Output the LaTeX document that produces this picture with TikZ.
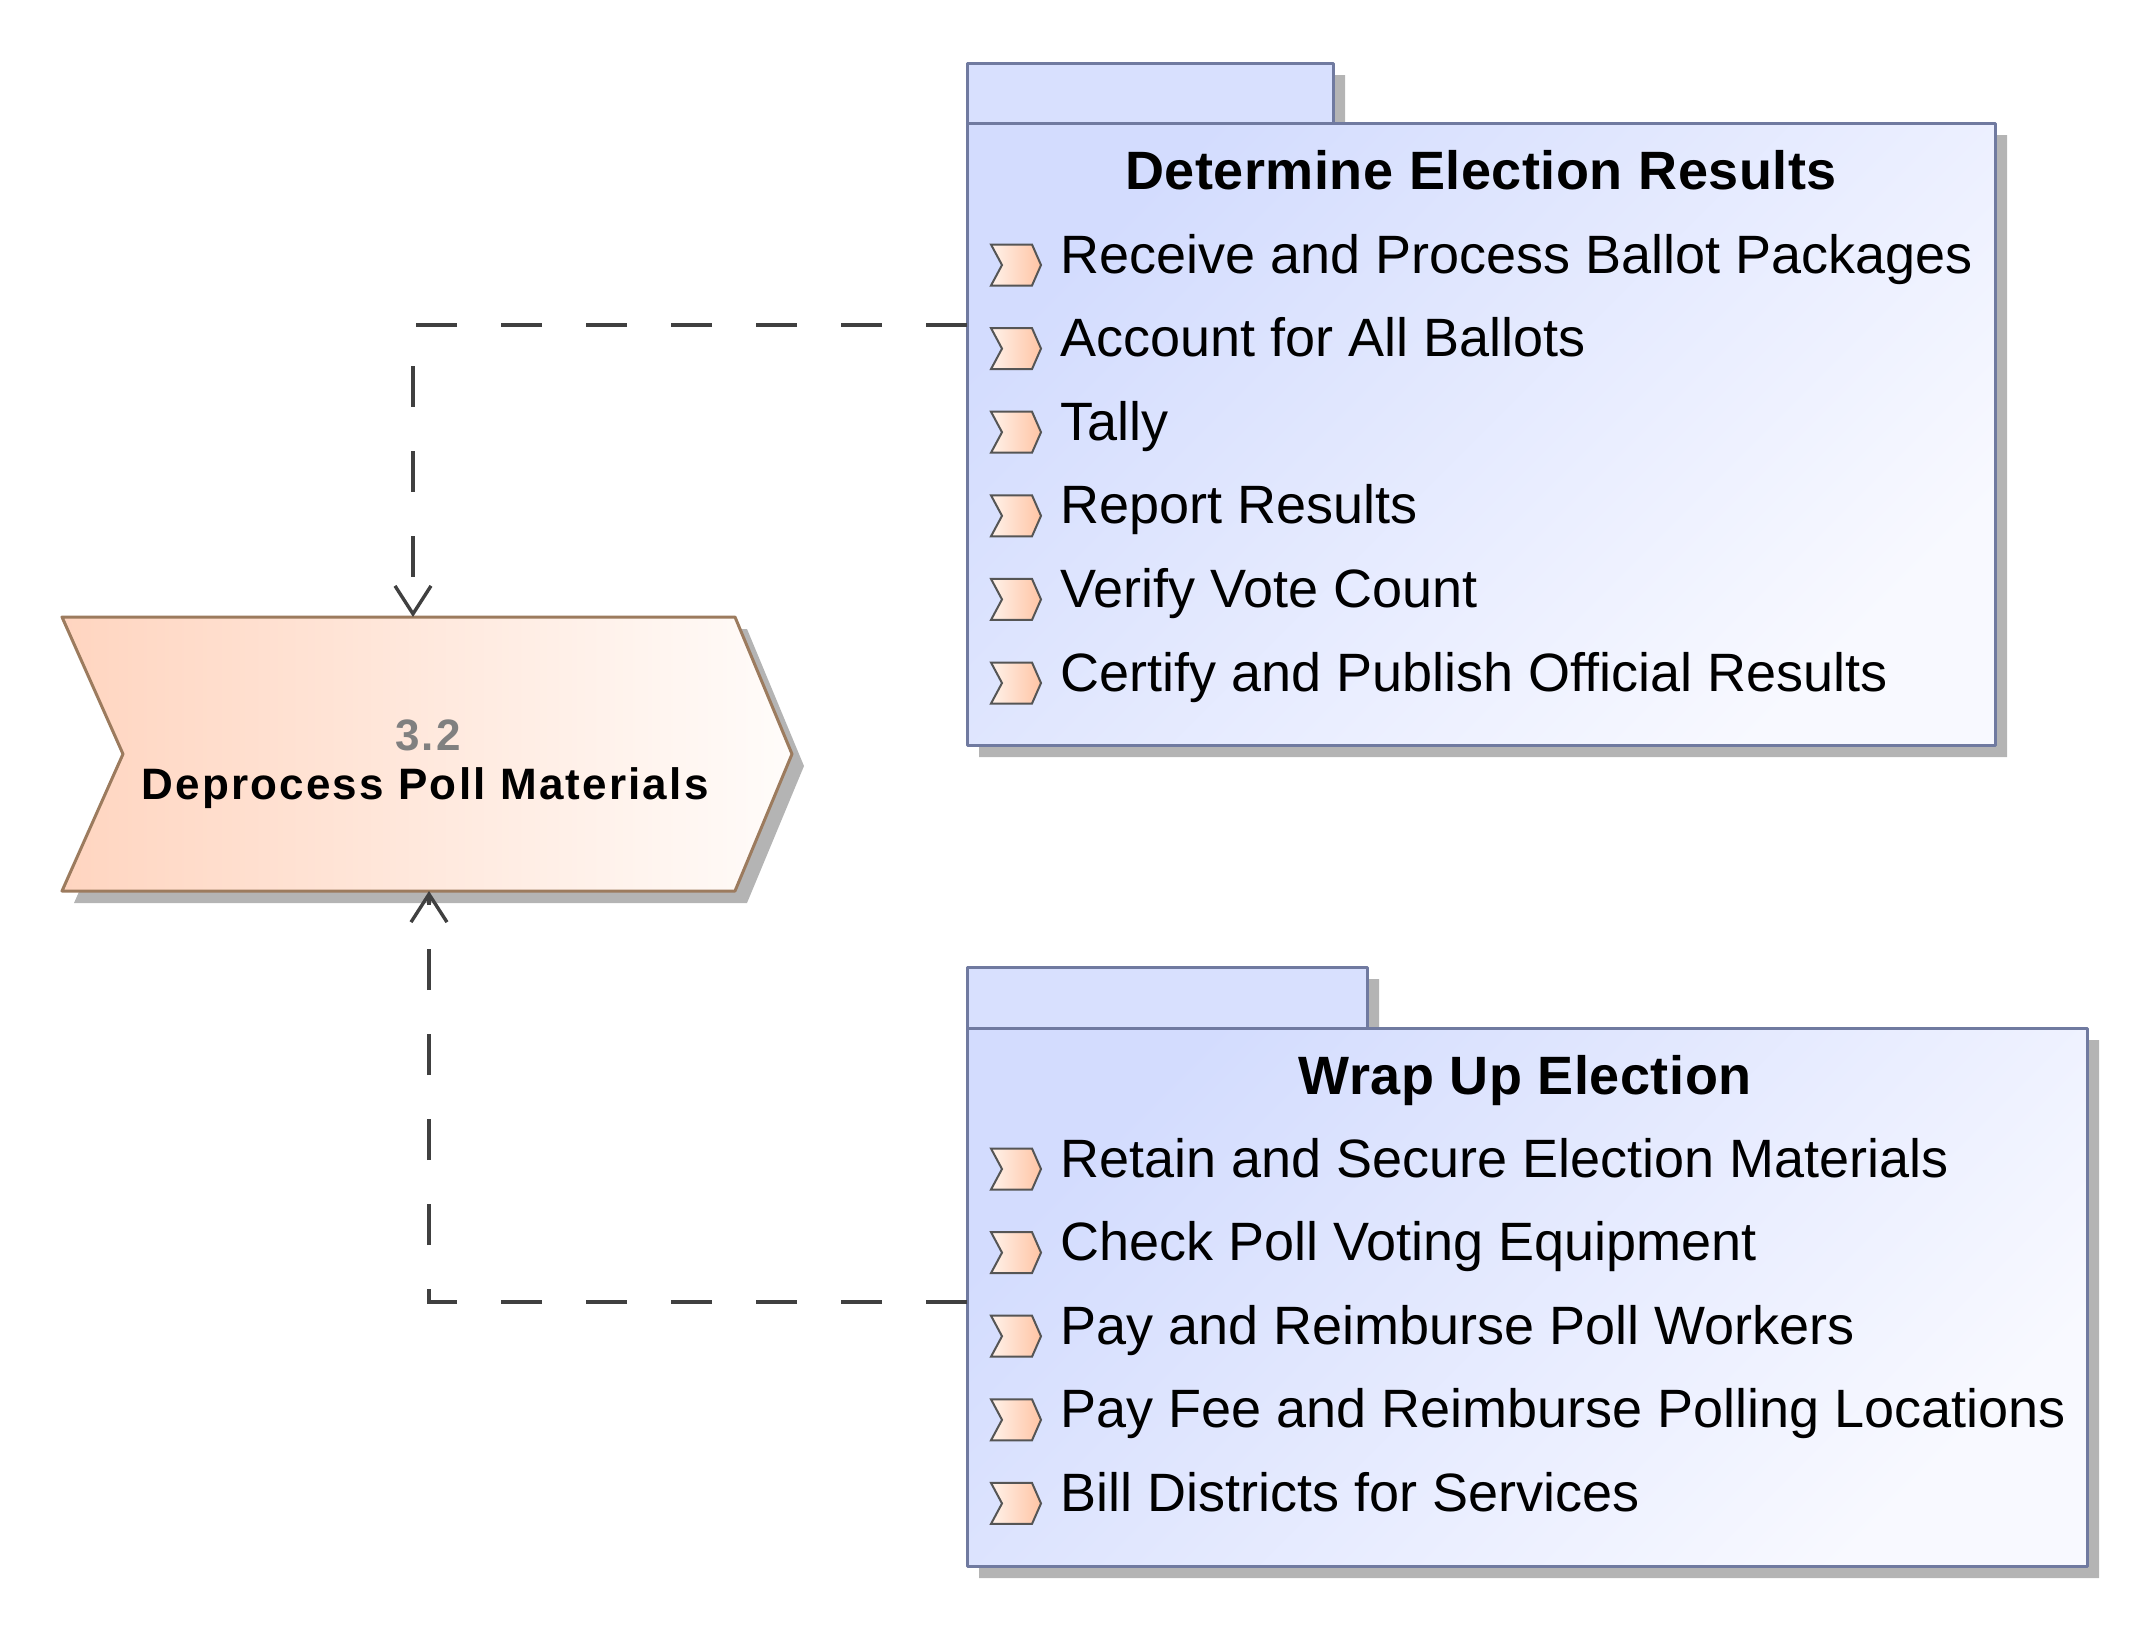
\documentclass[tikz,border=0pt]{standalone}
\usepackage{fontspec}
\setmainfont{Liberation Sans}
\usetikzlibrary{arrows.meta,calc}
\usepackage{tkz-euclide}
\definecolor{PkgClr}{RGB}{112,122,160}
\definecolor{PkgTopClr}{RGB}{211,220,254}
\definecolor{PkgEndClr}{RGB}{248,249,255}
\definecolor{TabClr}{RGB}{216,224,254}
\definecolor{ChevClr}{RGB}{156,123,94}
\definecolor{ChevTopClr}{RGB}{255,213,192}
\definecolor{ChevEndClr}{RGB}{255,252,250}
\definecolor{IconClr}{RGB}{85,85,85}
\definecolor{IconTopClr}{RGB}{255,242,234}
\definecolor{IconEndClr}{RGB}{255,196,164}
\definecolor{ShadowClr}{RGB}{180,180,180}
\definecolor{LinkClr}{RGB}{64,64,64}
\definecolor{NumClr}{RGB}{128,128,128}

\begin{document}
\begin{tikzpicture}[x=0.5pt,y=-0.5pt,
  shadow/.style={fill=ShadowClr,transform canvas={shift={(12,12)}}},
  title/.style={anchor=base,inner sep=0pt,font=\fontsize{27}{32}\selectfont\bfseries\addfontfeatures{LetterSpace=1}},
  chev/.style={anchor=base,inner sep=0pt,font=\fontsize{22}{26}\selectfont\bfseries\addfontfeatures{LetterSpace=5}},
  item/.style={anchor=base west,inner sep=0pt,font=\fontsize{27}{32}\selectfont},
  icon/.style={draw=IconClr,line width=1pt,left color=IconTopClr,right color=IconEndClr},
  link/.style={draw=LinkClr,line width=1.7pt,dash pattern=on 20.5pt off 22pt,
    -{Straight Barb[length=14pt,width=18pt]}}]
\useasboundingbox (0,0) rectangle (2150,1629);
\tkzSetUpLine[line width=1.5pt,color=PkgClr]

\tkzDefPoints{62/617/A,735/617/B,792/754/C,735/891/D,62/891/E,123/754/F}
\tkzDefPoints{967/63/G,1333/63/H,1333/123/I,967/123/S,1995/123/J,1995/745/K,967/745/L}
\tkzDefPoints{967/967/M,1367/967/N,1367/1028/O,967/1028/T,2087/1028/P,2087/1566/Q,967/1566/R}

\coordinate (TopFrom) at (967,325);
\coordinate (TopTo) at (413,617);
\coordinate (BotFrom) at (967,1302);
\coordinate (BotTo) at (429,891);

\tkzFillPolygon[shadow](A,B,C,D,E,F)
\tkzFillPolygon[shadow](G,H,I,S)
\tkzFillPolygon[shadow](S,J,K,L)
\tkzFillPolygon[shadow](M,N,O,T)
\tkzFillPolygon[shadow](T,P,Q,R)

\tkzFillPolygon[left color=ChevTopClr,right color=ChevEndClr](A,B,C,D,E,F)
\tkzDrawPolygon[color=ChevClr](A,B,C,D,E,F)

\tkzFillPolygon[fill=TabClr](G,H,I,S)
\tkzFillPolygon[top color=PkgTopClr,bottom color=PkgEndClr,shading angle=45](S,J,K,L)
\tkzDrawPolygon(G,H,I,S)
\tkzDrawPolygon(S,J,K,L)

\tkzFillPolygon[fill=TabClr](M,N,O,T)
\tkzFillPolygon[top color=PkgTopClr,bottom color=PkgEndClr,shading angle=45](T,P,Q,R)
\tkzDrawPolygon(M,N,O,T)
\tkzDrawPolygon(T,P,Q,R)

\node[chev,text=NumClr] (ChevNum) at (428,750) {3.2};
\node[chev] (ChevName) at (425,799) {Deprocess Poll Materials};

\node[title] (TopTitle) at (1481,189) {Determine Election Results};
\foreach \txt [count=\i from 0] in {Receive and Process Ballot Packages,Account for All Ballots,Tally,
  Report Results,Verify Vote Count,Certify and Publish Official Results}{
  \draw[icon,shift={(991,{265+83.6*\i})}] (0,-20.5) -- (41,-20.5) -- (50,0) -- (41,20.5) -- (0,20.5) -- (11,0) -- cycle;
  \node[item] (top-\i) at (1060,{273+83.6*\i}) {\txt};
}

\node[title] (BotTitle) at (1525,1094) {Wrap Up Election};
\foreach \txt [count=\i from 0] in {Retain and Secure Election Materials,Check Poll Voting Equipment,
  Pay and Reimburse Poll Workers,Pay Fee and Reimburse Polling Locations,Bill Districts for Services}{
  \draw[icon,shift={(991,{1169+83.6*\i})}] (0,-20.5) -- (41,-20.5) -- (50,0) -- (41,20.5) -- (0,20.5) -- (11,0) -- cycle;
  \node[item] (bot-\i) at (1060,{1177+83.6*\i}) {\txt};
}

\draw[link] (TopFrom) -| (TopTo);
\draw[link] (BotFrom) -| (BotTo);

\end{tikzpicture}
\end{document}
